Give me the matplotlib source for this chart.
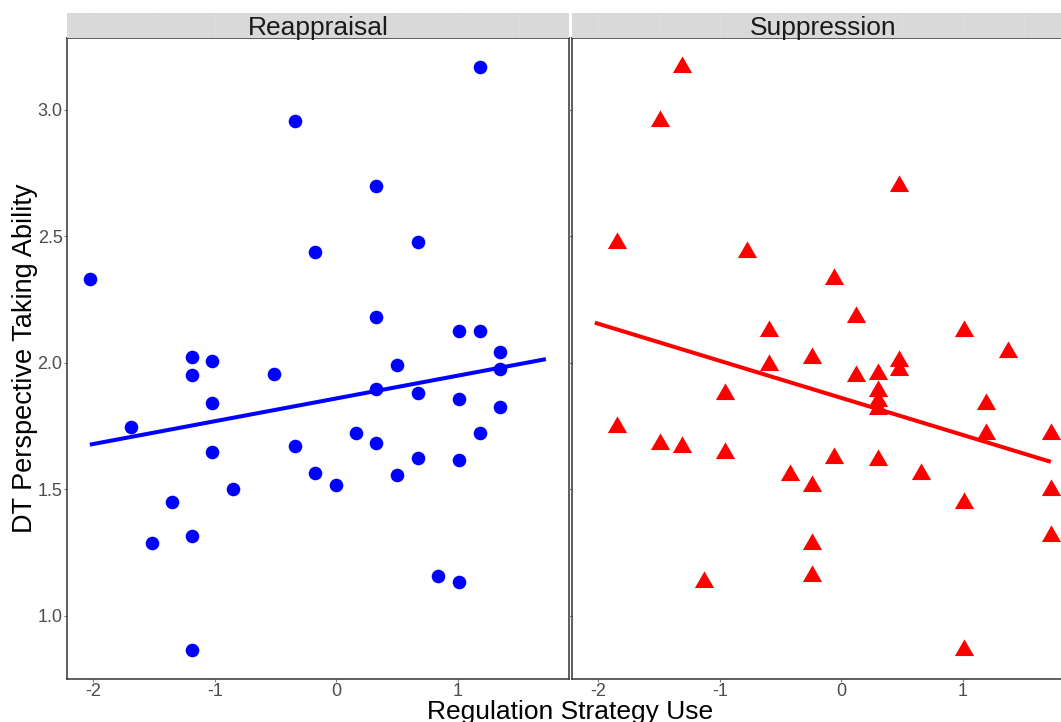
import numpy as np
import matplotlib
matplotlib.use("Agg")
import matplotlib.pyplot as plt
from matplotlib.path import Path

# ---------------- data ----------------
panels = ["Reappraisal", "Suppression"]

reap_x = [-2.03, 1.18, -0.34, 0.33, -0.18, 0.67, 0.33, 1.01, 1.18,
          -1.19, -1.02, -1.19, -0.51, 0.50, 1.35, 1.35, 0.33, 0.67, -1.02,
          1.01, 1.35, -1.69, 0.16, 1.18, -0.34, 0.33, -1.02, 0.67, 1.01,
          -0.18, 0.50, 0.00, -0.85, -1.35, -1.52, -1.19, 0.84, 1.01, -1.19]
reap_y = [2.333, 3.170, 2.957, 2.700, 2.440, 2.476, 2.180, 2.128, 2.128,
          2.025, 2.007, 1.952, 1.958, 1.993, 2.042, 1.975, 1.896, 1.880, 1.840,
          1.857, 1.825, 1.747, 1.722, 1.723, 1.672, 1.684, 1.647, 1.626, 1.618,
          1.564, 1.558, 1.517, 1.500, 1.451, 1.289, 1.316, 1.157, 1.134, 0.867]

supp_x = [-1.31, -1.49, 0.475, -1.85, -0.775, -0.06, 0.12, -0.60, 1.01, 1.375,
          -0.24, -0.60, 0.475, 0.475, 0.12, 0.30, 0.30, 0.30, 0.30, -0.955,
          1.19, -1.85, 1.19, 1.725, -1.49, -1.31, -0.955, -0.06, 0.30, -0.42,
          0.655, -0.24, 1.725, 1.01, 1.725, -0.24, -0.24, -1.135, 1.01]
supp_y = [3.168, 2.955, 2.700, 2.474, 2.439, 2.330, 2.180, 2.126, 2.126, 2.042,
          2.021, 1.990, 2.007, 1.974, 1.947, 1.956, 1.889, 1.851, 1.819, 1.877,
          1.836, 1.745, 1.719, 1.719, 1.681, 1.668, 1.644, 1.625, 1.615, 1.558,
          1.562, 1.515, 1.496, 1.447, 1.315, 1.285, 1.156, 1.135, 0.865]

fit_x = [-2.03, 1.725]
reap_fit_y = [1.677, 2.015]
supp_fit_y = [2.159, 1.609]

x_ticks = [-2, -1, 0, 1]
y_ticks = [1.0, 1.5, 2.0, 2.5, 3.0]
y_ticklabels = ["1.0", "1.5", "2.0", "2.5", "3.0"]

# ---------------- figure ----------------
W, H = 1061, 722
fig = plt.figure(figsize=(W / 100, H / 100), dpi=100)
plt.rcParams['font.family'] = ['Liberation Sans', 'DejaVu Sans']

def px_rect(x0, y0, x1, y1):
    return [x0 / W, 1 - y1 / H, (x1 - x0) / W, (y1 - y0) / H]

panel_w = 501.7
top, bottom = 38.3, 678.7
strip_top = 13.3
lefts = [67.0, 572.0]

tri = Path([(0, 1), (-0.866, -0.5), (0.866, -0.5), (0, 1)],
           [Path.MOVETO, Path.LINETO, Path.LINETO, Path.CLOSEPOLY])

xlim = (-2.218, 1.913)
ylim = (0.752, 3.283)

edge = '#333333'
series = [
    (reap_x, reap_y, reap_fit_y, '#0000ff', 'o', 9.8),
    (supp_x, supp_y, supp_fit_y, '#ff0000', tri, 16.0),
]

for i, (name, (xs, ys, fy, col, mk, ms)) in enumerate(zip(panels, series)):
    l = lefts[i]
    ax = fig.add_axes(px_rect(l, top, l + panel_w, bottom))
    ax.set_xlim(*xlim)
    ax.set_ylim(*ylim)
    ax.plot(xs, ys, linestyle='none', marker=mk, markersize=ms,
            markerfacecolor=col, markeredgewidth=0, color=col, zorder=3,
            clip_on=True)
    ax.plot(fit_x, fy, color=col, linewidth=2.9, solid_capstyle='butt', zorder=4)
    for s in ax.spines.values():
        s.set_color(edge)
        s.set_linewidth(1.1)
    ax.set_xticks(x_ticks)
    ax.set_xticklabels([str(t) for t in x_ticks])
    ax.set_yticks(y_ticks)
    if i == 0:
        ax.set_yticklabels(y_ticklabels)
    else:
        ax.set_yticklabels([])
    ax.tick_params(axis='both', length=2.2, width=0.8, color='#7f7f7f',
                   labelsize=13, labelcolor='#4d4d4d', pad=1.0)
    ax.set_facecolor('white')

    # strip
    sax = fig.add_axes(px_rect(l, strip_top, l + panel_w, top))
    sax.set_facecolor('#d9d9d9')
    sax.set_xlim(*xlim)
    sax.set_ylim(0, 1)
    for gx in np.arange(-2.0, 2.0, 0.5):
        sax.axvline(gx, color='#dfdfdf', linewidth=0.5, zorder=0)
    sax.set_xticks([])
    sax.set_yticks([])
    for s in sax.spines.values():
        s.set_visible(False)
    sax.text(0.5, (top - 35.0) / (top - strip_top), name, ha='center',
             va='baseline', fontsize=19, color='#1a1a1a',
             transform=sax.transAxes)

fig.text(25 / W, 1 - (top + bottom) / 2 / H, "DT Perspective Taking Ability",
         rotation=90, ha='center', va='center', fontsize=19.5, color='black')
fig.text(570.5 / W, 1 - 718.5 / H, "Regulation Strategy Use",
         ha='center', va='baseline', fontsize=19, color='black')

fig.savefig("out.png", dpi=100, facecolor='white')
